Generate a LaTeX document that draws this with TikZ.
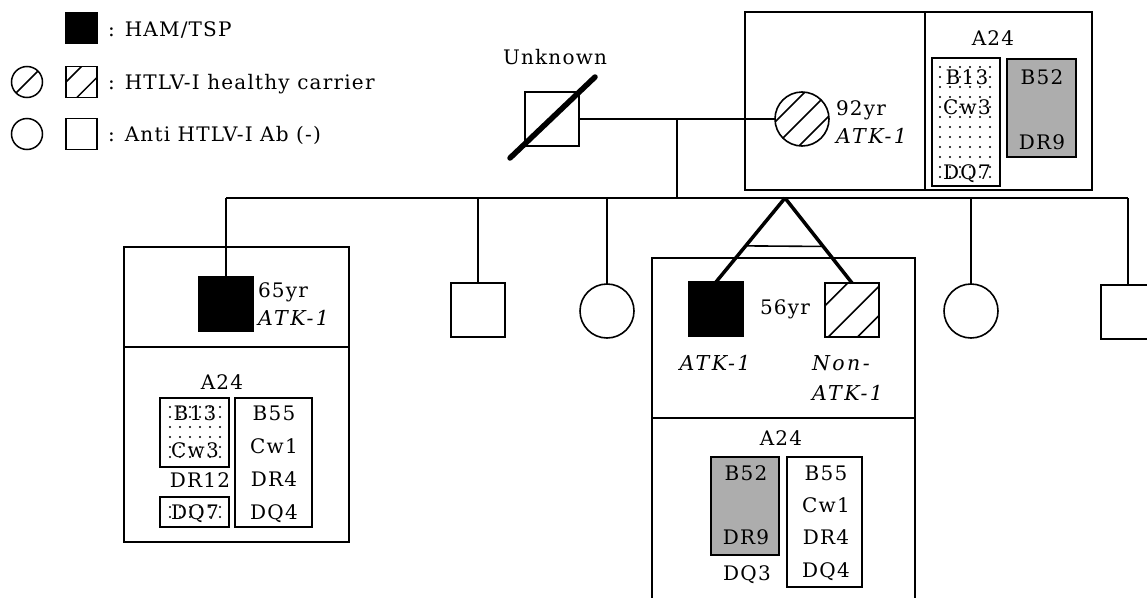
\documentclass[tikz,border=0pt]{standalone}
\usepackage{fontspec}
\setmainfont{DejaVu Serif}[LetterSpace=6]
\usetikzlibrary{calc,patterns.meta}
\begin{document}
\begin{tikzpicture}[x=1pt,y=-1pt,
  every node/.style={inner sep=0pt, outer sep=0pt},
  lab/.style={font=\fontsize{20}{24}\selectfont},
  ital/.style={font=\fontsize{20.5}{24}\selectfont\itshape\addfontfeatures{LetterSpace=12}},
  sym/.style={draw, line width=1.6pt, minimum size=54pt},
  sq/.style={sym, rectangle},
  ci/.style={sym, circle},
  aff/.style={fill=black},
  conn/.style={line width=1.6pt},
  boxline/.style={line width=1.8pt},
  sparsedots/.style={pattern={Dots[radius=1.2pt,distance=10pt]}, pattern color=black},
  graybox/.style={fill=black!32},
  hatchsq/.style={path picture={
    \draw[line width=1.6pt] ($(path picture bounding box.north west)!0.42!(path picture bounding box.south west)$) -- ($(path picture bounding box.north west)!0.42!(path picture bounding box.north east)$);
    \draw[line width=1.6pt] ($(path picture bounding box.south west)!0.06!(path picture bounding box.south east)$) -- ($(path picture bounding box.north east)!0.06!(path picture bounding box.south east)$);
    \draw[line width=1.6pt] ($(path picture bounding box.south west)!0.6!(path picture bounding box.south east)$) -- ($(path picture bounding box.north east)!0.6!(path picture bounding box.south east)$);
  }},
  hatchlg/.style={path picture={
    \draw[line width=1.5pt] ($(path picture bounding box.north west)!0.5!(path picture bounding box.south west)$) -- ($(path picture bounding box.north west)!0.5!(path picture bounding box.north east)$);
    \draw[line width=1.5pt] ($(path picture bounding box.south west)!0.35!(path picture bounding box.south east)$) -- ($(path picture bounding box.north east)!0.35!(path picture bounding box.south east)$);
  }},
  hatchci/.style={path picture={
    \foreach \k in {-12,0,12}{
      \draw[line width=1.6pt] ($(path picture bounding box.center)+({\k-40},{\k+40})$) -- ($(path picture bounding box.center)+({\k+40},{\k-40})$);
    }
  }},
  slashci/.style={path picture={
    \draw[line width=1.5pt] (path picture bounding box.south west) -- (path picture bounding box.north east);
  }}
]
\useasboundingbox (0,0) rectangle (1147,597);

% ---------------- legend ----------------
\node[sq, aff, minimum size=31pt] (lgA) at (81.5,28) {};
\node[lab, anchor=base west] (lgAt) at (108,36) {: HAM/TSP};
\node[ci, minimum size=31pt, line width=1.5pt, slashci] (lgB1) at (27,82) {};
\node[sq, minimum size=31pt, line width=1.5pt, hatchlg] (lgB2) at (81.5,82) {};
\node[lab, anchor=base west] (lgBt) at (108,89) {: HTLV-I healthy carrier};
\node[ci, minimum size=31pt, line width=1.5pt] (lgC1) at (27,134) {};
\node[sq, minimum size=31pt, line width=1.5pt] (lgC2) at (81.5,134) {};
\node[lab, anchor=base west] (lgCt) at (108,141) {: Anti HTLV-I Ab (-)};

% ---------------- parents ----------------
\node[lab, anchor=base] (unkt) at (555,64) {Unknown};
\node[sq] (unk) at (552,119) {};
\draw[line width=5.5pt, line cap=round] ($(unk.center)+(-42,39)$) -- ($(unk.center)+(43,-42)$);

\draw[boxline] (745,12) rectangle (1092,190);
\draw[boxline] (925,12) -- (925,190);
\node[ci, hatchci] (mother) at (802,119) {};
\node[lab, anchor=base west] (m-age) at (836,115) {92yr};
\node[ital, anchor=base west] (m-atk) at (836,143) {ATK-1};
\node[lab, anchor=base] (m-a24) at (993,45) {A24};
\draw[line width=1.6pt, sparsedots] (932,58) rectangle (1000,186);
\draw[line width=1.6pt, graybox] (1007,59) rectangle (1076,157);
\node[lab, anchor=base] (m-b13) at (967,84) {B13};
\node[lab, anchor=base] (m-cw3) at (967,114) {Cw3};
\node[lab, anchor=base] (m-dq7) at (967,179) {DQ7};
\node[lab, anchor=base] (m-b52) at (1042,84) {B52};
\node[lab, anchor=base] (m-dr9) at (1042,149) {DR9};

\coordinate (marr) at (677,119);
\coordinate (sibm) at (677,198);
\draw[conn] (unk.east) -- (mother.west);
\draw[conn] (marr) -- (sibm);

% ---------------- sibship ----------------
\coordinate (s1) at (226,198);
\coordinate (s2) at (478,198);
\coordinate (s3) at (607,198);
\coordinate (apex) at (785,198);
\coordinate (s5) at (971,198);
\coordinate (s6) at (1128,198);
\draw[conn] (s1) -- (s6);

% child 1 with box
\draw[boxline] (124,247) rectangle (349,542);
\draw[boxline] (124,347) -- (349,347);
\node[sq, aff] (c1) at (226,304) {};
\draw[conn] (s1) -- (c1.north);
\node[lab, anchor=base west] (c1-age) at (258,297) {65yr};
\node[ital, anchor=base west] (c1-atk) at (258,325) {ATK-1};
\node[lab, anchor=base] (c1-a24) at (222,389) {A24};
\draw[line width=1.6pt, sparsedots] (160,398) rectangle (229,467);
\draw[line width=1.6pt, sparsedots] (160,497) rectangle (229,527);
\draw[line width=1.6pt] (235,398) rectangle (312,527);
\node[lab, anchor=base] (c1-b13) at (195,420) {B13};
\node[lab, anchor=base] (c1-cw3) at (195,457) {Cw3};
\node[lab, anchor=base] (c1-dr12) at (200,487) {DR12};
\node[lab, anchor=base] (c1-dq7) at (195,519) {DQ7};
\node[lab, anchor=base] (c1-b55) at (274,420) {B55};
\node[lab, anchor=base] (c1-cw1) at (274,453) {Cw1};
\node[lab, anchor=base] (c1-dr4) at (274,486) {DR4};
\node[lab, anchor=base] (c1-dq4) at (274,519) {DQ4};

% child 2, 3
\node[sq] (c2) at (478,310) {};
\draw[conn] (s2) -- (c2.north);
\node[ci] (c3) at (607,311) {};
\draw[conn] (s3) -- (c3.north);

% twins with box
\draw[boxline] (652,258) rectangle (915,610);
\draw[boxline] (652,418) -- (915,418);
\node[sq, aff] (tw1) at (716,309) {};
\node[sq, hatchsq] (tw2) at (852,310) {};
\draw[line width=3.5pt] (apex) -- (tw1.north);
\draw[line width=3.5pt] (apex) -- (tw2.north);
\draw[conn] ($(apex)!0.57!(tw1.north)$) -- ($(apex)!0.57!(tw2.north)$);
\node[lab, anchor=base] (tw-age) at (785,314) {56yr};
\node[ital, anchor=base] (tw1-atk) at (715,370) {ATK-1};
\node[ital, anchor=base west] (tw2-non) at (812,370) {Non-};
\node[ital, anchor=base west] (tw2-atk) at (812,400) {ATK-1};
\node[lab, anchor=base] (tw-a24) at (781,445) {A24};
\draw[line width=1.6pt, graybox] (711,457) rectangle (779,555);
\draw[line width=1.6pt] (787,457) rectangle (862,587);
\node[lab, anchor=base] (tw-b52) at (746,480) {B52};
\node[lab, anchor=base] (tw-dr9) at (746,544) {DR9};
\node[lab, anchor=base] (tw-dq3) at (747,580) {DQ3};
\node[lab, anchor=base] (tw-b55) at (826,480) {B55};
\node[lab, anchor=base] (tw-cw1) at (826,512) {Cw1};
\node[lab, anchor=base] (tw-dr4) at (826,544) {DR4};
\node[lab, anchor=base] (tw-dq4) at (826,577) {DQ4};

% children 5, 6
\node[ci] (c5) at (971,311) {};
\draw[conn] (s5) -- (c5.north);
\node[sq] (c6) at (1128,312) {};
\draw[conn] (s6) -- (c6.north);
\end{tikzpicture}
\end{document}
